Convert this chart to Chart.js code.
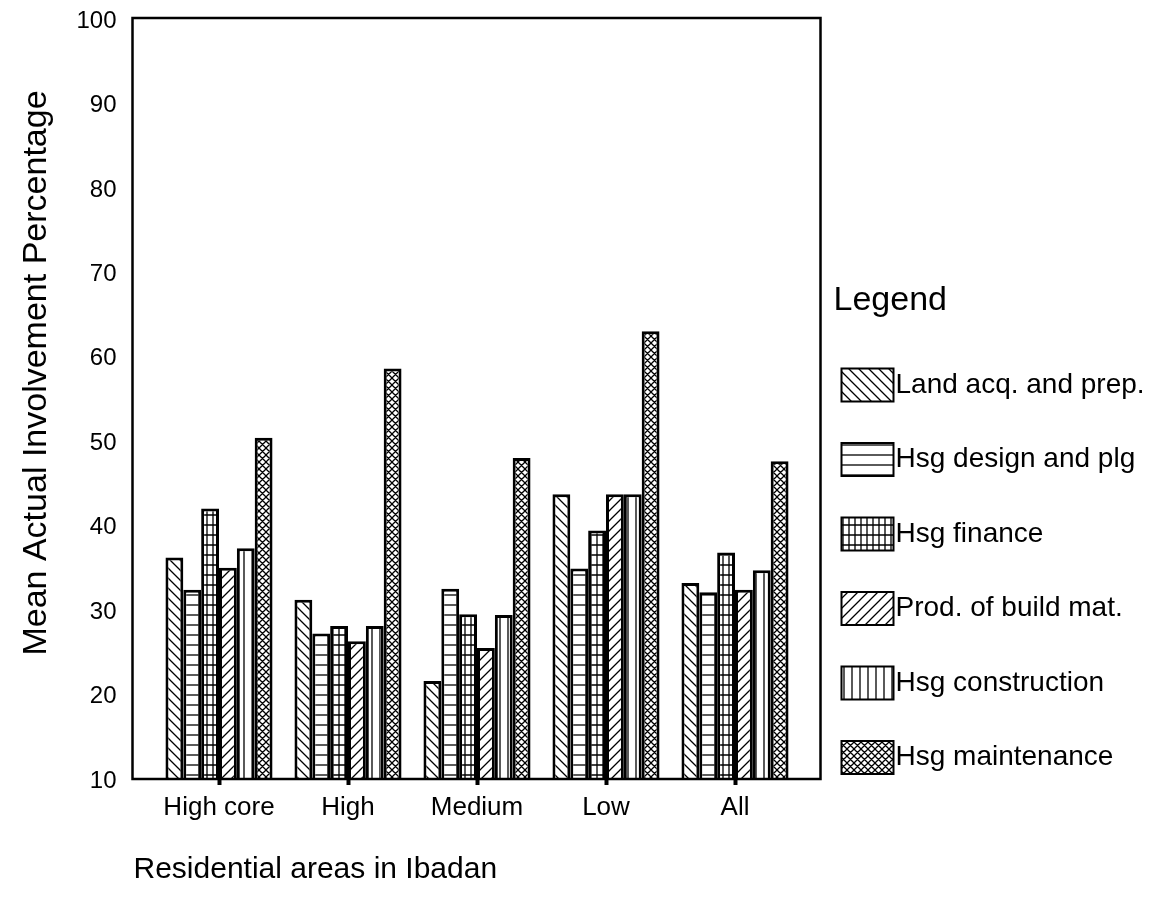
<!DOCTYPE html>
<html>
<head>
<meta charset="utf-8">
<script src="https://cdn.jsdelivr.net/npm/chart.js@4/dist/chart.umd.min.js"></script>
<style>
  html, body { margin: 0; padding: 0; background: #fff; }
  #wrap { width: 1160px; height: 907px; }
</style>
</head>
<body>
<div id="wrap"><canvas id="c" width="1160" height="907"></canvas></div>
<script>
// Residential areas and the six housing-delivery activities
const categories = ['High core', 'High', 'Medium', 'Low', 'All'];
const seriesNames = [
  'Land acq. and prep.',
  'Hsg design and plg',
  'Hsg finance',
  'Prod. of build mat.',
  'Hsg construction',
  'Hsg maintenance'
];

// Mean actual involvement percentage per area
const landAcq         = [36.1, 31.1, 21.5, 43.6, 33.1];
const hsgDesign       = [32.3, 27.1, 32.4, 34.8, 32.0];
const hsgFinance      = [41.9, 28.0, 29.4, 39.3, 36.7];
const prodBuildMat    = [34.9, 26.2, 25.4, 43.6, 32.3];
const hsgConstruction = [37.2, 28.0, 29.3, 43.6, 34.6];
const hsgMaintenance  = [50.3, 58.5, 47.9, 62.9, 47.5];

const yTickValues = [10, 20, 30, 40, 50, 60, 70, 80, 90, 100];

const xTitle = 'Residential areas in Ibadan';
const yTitle = 'Mean Actual Involvement Percentage';
const legendTitle = 'Legend';

const FONT = "'Liberation Sans', Arial, Helvetica, sans-serif";

// ---- monochrome hatch fills ----
function tile(w, h, draw) {
  const cv = document.createElement('canvas');
  cv.width = w; cv.height = h;
  const g = cv.getContext('2d');
  g.fillStyle = '#fff';
  g.fillRect(0, 0, w, h);
  g.strokeStyle = '#000';
  g.lineWidth = 1.3;
  g.beginPath();
  draw(g, w, h);
  g.stroke();
  return document.getElementById('c').getContext('2d').createPattern(cv, 'repeat');
}
function diagBack(g, s) {
  g.moveTo(-1, -1); g.lineTo(s + 1, s + 1);
  g.moveTo(-2, s - 2); g.lineTo(2, s + 2);
  g.moveTo(s - 2, -2); g.lineTo(s + 2, 2);
}
function diagFwd(g, s) {
  g.moveTo(s + 1, -1); g.lineTo(-1, s + 1);
  g.moveTo(-2, 2); g.lineTo(2, -2);
  g.moveTo(s - 2, s + 2); g.lineTo(s + 2, s - 2);
}
const fills = [
  tile(10, 10, (g, w) => diagBack(g, w)),
  tile(8, 10, (g, w, h) => { g.moveTo(0, h / 2); g.lineTo(w, h / 2); }),
  tile(6, 10, (g, w, h) => {
    g.moveTo(0, h / 2); g.lineTo(w, h / 2);
    g.moveTo(w / 2, 0); g.lineTo(w / 2, h);
  }),
  tile(10, 10, (g, w) => diagFwd(g, w)),
  tile(8, 8, (g, w, h) => { g.moveTo(w / 2, 0); g.lineTo(w / 2, h); }),
  tile(7, 7, (g, w) => { diagBack(g, w); diagFwd(g, w); })
];

const seriesValues = [landAcq, hsgDesign, hsgFinance, prodBuildMat, hsgConstruction, hsgMaintenance];

const datasets = seriesNames.map((name, i) => ({
  label: name,
  data: seriesValues[i],
  backgroundColor: fills[i],
  borderColor: '#000',
  borderWidth: 3,
  borderSkipped: 'start',
  categoryPercentage: 0.83,
  barPercentage: 1.0
}));

// Frame, axis titles and the hatch legend
const decor = {
  id: 'decor',
  afterDatasetsDraw(chart) {
    const { ctx, chartArea: a } = chart;
    ctx.save();
    ctx.strokeStyle = '#000';
    ctx.lineWidth = 2.5;
    ctx.strokeRect(a.left - 22, a.top, (a.right + 21) - (a.left - 22), a.bottom + 1 - a.top);
    ctx.restore();
  },
  afterDraw(chart) {
    const { ctx, chartArea: a } = chart;
    ctx.save();
    ctx.fillStyle = '#000';

    // y title
    ctx.save();
    ctx.translate(37, 373);
    ctx.rotate(-Math.PI / 2);
    ctx.font = '34px ' + FONT;
    ctx.textAlign = 'center';
    ctx.textBaseline = 'middle';
    ctx.fillText(yTitle, 0, 0);
    ctx.restore();

    // x title
    ctx.font = '30px ' + FONT;
    ctx.textAlign = 'left';
    ctx.textBaseline = 'middle';
    ctx.fillText(xTitle, a.left - 21, 870);

    // legend
    ctx.font = '34px ' + FONT;
    ctx.fillText(legendTitle, a.right + 34, 301);

    ctx.font = '28px ' + FONT;
    const bx = a.right + 42, bw = 52, bh = 33;
    seriesNames.forEach((name, i) => {
      const cy = 385 + i * 74.5;
      ctx.fillStyle = fills[i];
      ctx.fillRect(bx, cy - bh / 2, bw, bh);
      ctx.strokeStyle = '#000';
      ctx.lineWidth = 2;
      ctx.strokeRect(bx, cy - bh / 2, bw, bh);
      ctx.fillStyle = '#000';
      ctx.fillText(name, bx + bw + 2, cy);
    });
    ctx.restore();
  }
};

new Chart(document.getElementById('c'), {
  type: 'bar',
  data: { labels: categories, datasets },
  plugins: [decor],
  options: {
    responsive: false,
    animation: false,
    devicePixelRatio: 1,
    layout: { padding: { top: 18, right: 360.5, bottom: 0, left: 0 } },
    plugins: {
      legend: { display: false },
      tooltip: { enabled: false },
      title: { display: false }
    },
    scales: {
      x: {
        offset: true,
        grid: {
          display: true,
          offset: false,
          drawOnChartArea: false,
          drawTicks: true,
          tickLength: 7,
          tickWidth: 4,
          color: '#000'
        },
        border: { display: false },
        ticks: {
          color: '#000',
          padding: 7,
          font: { family: FONT, size: 26 }
        },
        afterFit(s) { s.height = 129; s.paddingLeft = 0; s.paddingRight = 0; }
      },
      y: {
        min: 10,
        max: 100,
        grid: { display: false, drawTicks: false },
        border: { display: false },
        afterBuildTicks(s) { s.ticks = yTickValues.map(v => ({ value: v })); },
        ticks: {
          color: '#000',
          padding: 38,
          labelOffset: 3,
          font: { family: FONT, size: 24 }
        },
        afterFit(s) { s.width = 154.5; s.paddingTop = 0; s.paddingBottom = 0; }
      }
    }
  }
});
</script>
</body>
</html>
